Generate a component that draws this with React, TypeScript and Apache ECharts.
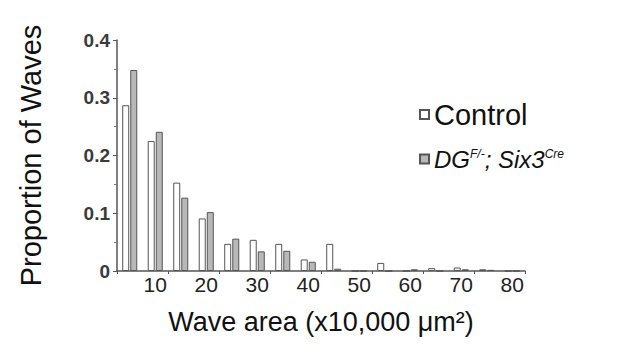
import React, { useEffect, useRef } from "react";
import * as echarts from "echarts";

const categories = ["5", "10", "15", "20", "25", "30", "35", "40", "45", "50", "55", "60", "65", "70", "75", "80"];
const controlValues = [0.287, 0.225, 0.153, 0.091, 0.047, 0.054, 0.047, 0.02, 0.047, 0, 0.014, 0, 0.005, 0.006, 0.003, 0];
const mutantValues = [0.348, 0.241, 0.127, 0.102, 0.056, 0.034, 0.035, 0.016, 0.004, 0, 0, 0.003, 0, 0.003, 0.002, 0];
const yTicks = [0, 0.1, 0.2, 0.3, 0.4];

export default function App() {
  const ref = useRef<HTMLDivElement>(null);
  useEffect(() => {
    if (!ref.current) return;
    const chart = echarts.init(ref.current, undefined, { renderer: "svg" });
    const font = "Liberation Sans, Arial, sans-serif";
    chart.setOption({
      animation: false,
      grid: { left: 117, right: 92, top: 40, bottom: 73, containLabel: false },
      legend: {
        orient: "vertical",
        left: 414,
        top: 95,
        itemGap: 14,
        itemWidth: 9,
        itemHeight: 9,
        icon: "rect",
        textStyle: {
          fontFamily: font,
          fontSize: 29,
          color: "#111",
          rich: {
            i: { fontFamily: font, fontSize: 24, fontStyle: "italic", color: "#111", lineHeight: 32 },
            sup: { fontFamily: font, fontSize: 12, fontStyle: "italic", color: "#111", lineHeight: 14, verticalAlign: "top", padding: [5, 0, 0, 0] },
          },
        },
        formatter: (name: string) =>
          name === "Control" ? "Control" : "{i|DG}{sup|F/-}{i|; Six3}{sup|Cre}",
        data: ["Control", "Mutant"],
      },
      xAxis: {
        type: "category",
        data: categories,
        boundaryGap: true,
        axisLine: { lineStyle: { color: "#555", width: 1.5 } },
        axisTick: { show: true, length: 3, interval: (i: number) => i % 2 === 0, lineStyle: { color: "#555" } },
        axisLabel: {
          interval: (i: number) => i % 2 === 1,
          fontFamily: font,
          fontSize: 21,
          color: "#222",
          margin: 3,
        },
        name: "Wave area (x10,000 \u03bcm\u00b2)",
        nameLocation: "middle",
        nameGap: 37,
        nameTextStyle: { fontFamily: font, fontSize: 27, color: "#111" },
      },
      yAxis: {
        type: "value",
        min: 0,
        max: 0.4,
        interval: 0.1,
        splitLine: { show: false },
        axisLine: { show: true, lineStyle: { color: "#555", width: 1.5 } },
        axisTick: { show: true, length: 4, lineStyle: { color: "#555" } },
        minorTick: { show: true, splitNumber: 2, length: 3, lineStyle: { color: "#777" } },
        axisLabel: {
          fontFamily: font,
          fontSize: 19,
          fontWeight: "bold",
          color: "#3a3a3a",
          margin: 7,
          formatter: (v: number) => {
            const t = yTicks.find((y) => Math.abs(y - v) < 1e-9);
            return t === 0 ? "0" : String(Number(v.toFixed(1)));
          },
        },
        name: "Proportion of Waves",
        nameLocation: "middle",
        nameGap: 72,
        nameTextStyle: { fontFamily: font, fontSize: 29, color: "#111" },
      },
      series: [
        {
          name: "Control",
          type: "bar",
          data: controlValues,
          barWidth: 7,
          barGap: "15%",
          itemStyle: { color: "#ffffff", borderColor: "#555", borderWidth: 1 },
        },
        {
          name: "Mutant",
          type: "bar",
          data: mutantValues,
          barWidth: 7,
          itemStyle: { color: "#b8b8b8", borderColor: "#555", borderWidth: 1 },
        },
      ],
    });
    return () => chart.dispose();
  }, []);
  return <div ref={ref} style={{ width: 617, height: 344, position: "absolute", left: 0, top: 0, background: "#fff" }} />;
}
